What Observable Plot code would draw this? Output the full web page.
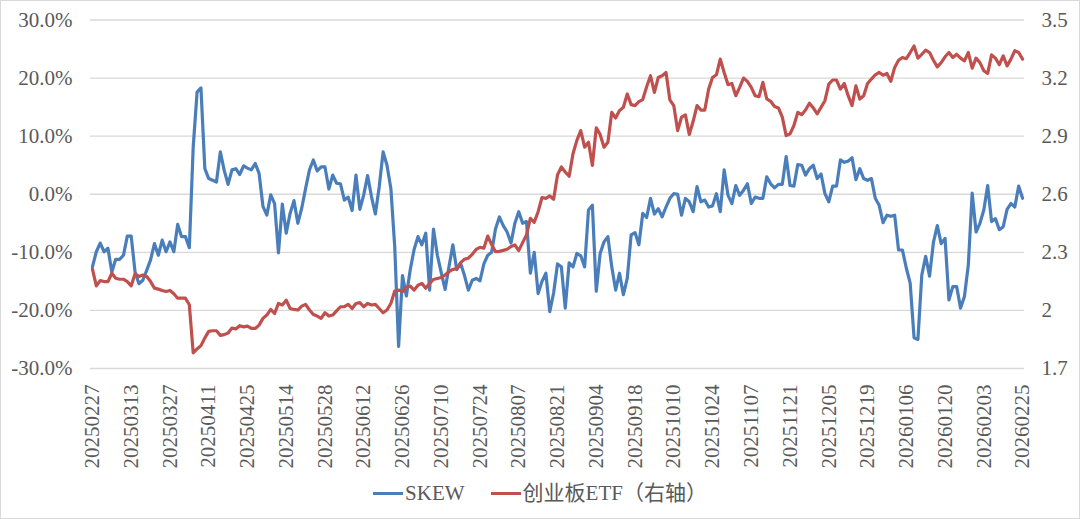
<!DOCTYPE html>
<html><head><meta charset="utf-8">
<script src="https://cdn.jsdelivr.net/npm/d3@7"></script>
<script src="https://cdn.jsdelivr.net/npm/@observablehq/plot@0.6"></script>
<style>
body{margin:0;background:#fff;}
#wrap{position:relative;width:1080px;height:519px;overflow:hidden;background:#fff;}
#wrap svg{position:absolute;left:0;top:0;}
#frame{position:absolute;left:0;top:0;width:1080px;height:519px;box-sizing:border-box;border:1px solid #d9d9d9;pointer-events:none;}
#legend{position:absolute;left:0;top:481px;width:1080px;height:24px;line-height:24px;display:flex;justify-content:center;align-items:center;font-family:"Liberation Serif","Noto Sans CJK SC",serif;font-size:21px;color:#595959;}
.item{display:flex;align-items:center;}
.sw{width:30px;height:3px;margin-right:2px;}
</style></head>
<body><div id="wrap"><div id="frame"></div>
<div id="legend">
  <div class="item"><div class="sw" style="background:#4A7EBB"></div><span>SKEW</span></div>
  <div class="item" style="margin-left:26px"><div class="sw" style="background:#C0504D"></div><span>创业板ETF（右轴）</span></div>
</div></div>
<script>
const dates = [
"20250227","20250228",
"20250303","20250304","20250305","20250306","20250307","20250310","20250311","20250312","20250313","20250314","20250317","20250318","20250319","20250320","20250321","20250324","20250325","20250326","20250327","20250328","20250331",
"20250401","20250402","20250403","20250407","20250408","20250409","20250410","20250411","20250414","20250415","20250416","20250417","20250418","20250421","20250422","20250423","20250424","20250425","20250428","20250429","20250430",
"20250506","20250507","20250508","20250509","20250512","20250513","20250514","20250515","20250516","20250519","20250520","20250521","20250522","20250523","20250526","20250527","20250528","20250529","20250530",
"20250603","20250604","20250605","20250606","20250609","20250610","20250611","20250612","20250613","20250616","20250617","20250618","20250619","20250620","20250623","20250624","20250625","20250626","20250627","20250630",
"20250701","20250702","20250703","20250704","20250707","20250708","20250709","20250710","20250711","20250714","20250715","20250716","20250717","20250718","20250721","20250722","20250723","20250724","20250725","20250728","20250729","20250730","20250731",
"20250801","20250804","20250805","20250806","20250807","20250808","20250811","20250812","20250813","20250814","20250815","20250818","20250819","20250820","20250821","20250822","20250825","20250826","20250827","20250828","20250829",
"20250901","20250902","20250903","20250904","20250905","20250908","20250909","20250910","20250911","20250912","20250915","20250916","20250917","20250918","20250919","20250922","20250923","20250924","20250925","20250926","20250929","20250930",
"20251009","20251010","20251013","20251014","20251015","20251016","20251017","20251020","20251021","20251022","20251023","20251024","20251027","20251028","20251029","20251030","20251031",
"20251103","20251104","20251105","20251106","20251107","20251110","20251111","20251112","20251113","20251114","20251117","20251118","20251119","20251120","20251121","20251124","20251125","20251126","20251127","20251128",
"20251201","20251202","20251203","20251204","20251205","20251208","20251209","20251210","20251211","20251212","20251215","20251216","20251217","20251218","20251219","20251222","20251223","20251224","20251225","20251226","20251229","20251230","20251231",
"20260105","20260106","20260107","20260108","20260109","20260112","20260113","20260114","20260115","20260116","20260119","20260120","20260121","20260122","20260123","20260126","20260127","20260128","20260129","20260130",
"20260202","20260203","20260204","20260205","20260206","20260209","20260210","20260211","20260212","20260213","20260224","20260225"];

const tickLabels = ["20250227","20250313","20250327","20250411","20250425","20250514","20250528","20250612","20250626","20250710","20250724","20250807","20250821","20250904","20250918","20251010","20251024","20251107","20251121","20251205","20251219","20260106","20260120","20260203","20260225"];

// SKEW, percent
const skew = [
-12.5,-9.9,-8.4,-9.9,-9.3,-13.4,-11.2,-11.2,-10.5,-7.2,
-7.2,-13.4,-15.4,-14.8,-13.1,-11.3,-8.5,-10.5,-7.9,-9.9,
-8.2,-9.9,-5.2,-7.3,-7.3,-9.2,8.1,17.6,18.3,4.4,
2.7,2.4,2.1,7.3,4.1,1.7,4.2,4.4,3.4,4.9,
4.5,4.2,5.3,3.6,-2.1,-3.6,-0.1,-1.6,-10.1,-1.7,
-6.7,-3.3,-1.1,-5.0,-2.4,1.0,4.2,5.9,4.0,4.7,
4.7,0.9,3.3,1.9,1.8,-1.0,-0.5,-2.8,3.3,-2.6,
-0.1,3.2,-0.4,-3.4,1.3,7.3,5.0,1.0,-9.0,-26.2,
-14.0,-17.5,-13.0,-9.5,-7.3,-8.7,-6.7,-16.5,-6.0,-10.5,
-13.5,-16.4,-12.5,-8.7,-13.0,-11.9,-14.0,-16.5,-14.8,-14.5,
-14.9,-12.0,-10.5,-10.0,-6.0,-3.9,-5.4,-6.5,-8.4,-5.0,
-3.0,-5.0,-4.7,-13.6,-10.0,-17.1,-15.0,-13.6,-20.2,-17.0,
-12.0,-12.5,-19.6,-11.8,-12.5,-10.2,-10.6,-12.5,-2.7,-1.9,
-16.7,-10.2,-8.2,-7.3,-12.5,-16.5,-13.6,-17.3,-14.5,-7.0,
-6.6,-8.7,-3.3,-4.0,-0.7,-3.4,-2.5,-3.9,-2.2,-0.7,
0.1,0.0,-3.6,-0.7,-1.3,-3.0,1.3,-1.3,-1.0,-2.2,
-2.0,0.1,-3.0,4.2,-0.2,-1.6,1.5,-0.2,0.7,1.8,
-1.6,-0.5,-0.7,-0.7,3.0,1.8,1.1,1.7,1.7,6.5,
1.5,1.4,5.1,5.0,3.3,4.4,5.0,2.7,3.5,0.1,
-1.3,1.4,1.4,5.9,5.5,5.7,6.3,2.5,4.4,2.7,
2.4,2.7,-0.7,-1.9,-4.9,-3.6,-3.8,-3.6,-9.6,-9.6,
-12.7,-15.3,-24.7,-25.0,-13.9,-10.7,-14.1,-8.3,-5.4,-8.5,
-7.6,-18.2,-15.9,-15.9,-19.6,-17.6,-12.2,0.2,-6.5,-5.0,
-2.7,1.5,-4.7,-4.2,-6.1,-5.6,-2.6,-1.6,-2.2,1.4,
-0.7];

// 创业板ETF price (right axis)
const etf = [
2.213,2.127,2.154,2.149,2.149,2.192,2.166,2.161,2.161,2.149,
2.127,2.189,2.175,2.183,2.175,2.149,2.115,2.110,2.103,2.098,
2.103,2.086,2.063,2.063,2.063,2.029,1.781,1.801,1.818,1.858,
1.892,1.895,1.895,1.871,1.875,1.883,1.909,1.904,1.921,1.915,
1.919,1.907,1.907,1.924,1.959,1.976,2.005,1.984,2.036,2.028,
2.053,2.010,2.005,2.002,2.022,2.031,2.002,1.979,1.971,1.959,
1.988,1.971,1.976,1.998,2.019,2.019,2.031,2.010,2.036,2.040,
2.019,2.036,2.028,2.031,2.010,1.988,2.002,2.036,2.100,2.105,
2.097,2.120,2.125,2.105,2.130,2.140,2.114,2.140,2.160,2.165,
2.170,2.183,2.200,2.212,2.215,2.247,2.264,2.270,2.290,2.315,
2.326,2.321,2.384,2.340,2.303,2.305,2.310,2.316,2.330,2.338,
2.309,2.350,2.390,2.476,2.455,2.510,2.583,2.579,2.591,2.574,
2.700,2.741,2.715,2.693,2.809,2.878,2.929,2.843,2.869,2.749,
2.943,2.909,2.843,2.869,3.023,2.994,3.032,3.049,3.118,3.063,
3.058,3.078,3.089,3.155,3.212,3.126,3.203,3.212,3.229,3.087,
3.058,2.929,2.998,3.010,2.909,2.977,3.058,3.035,3.035,3.143,
3.203,3.217,3.298,3.229,3.166,3.172,3.109,3.152,3.200,3.183,
3.152,3.109,3.104,3.178,3.092,3.080,3.053,3.046,2.998,2.903,
2.912,2.955,3.023,3.011,3.035,3.070,3.046,3.015,3.049,3.083,
3.169,3.190,3.190,3.143,3.172,3.109,3.058,3.160,3.092,3.109,
3.172,3.195,3.217,3.229,3.215,3.224,3.183,3.255,3.292,3.306,
3.300,3.332,3.366,3.303,3.323,3.344,3.332,3.292,3.258,3.280,
3.310,3.332,3.306,3.323,3.303,3.289,3.332,3.251,3.303,3.280,
3.238,3.224,3.320,3.303,3.269,3.315,3.263,3.298,3.341,3.332,
3.298];

const leftTicks = [-30,-20,-10,0,10,20,30];
const rightTicks = [1.7,2.0,2.3,2.6,2.9,3.2,3.5];

const skewData = dates.map((d,i)=>({date:d, v:skew[i]}));
const etfData = dates.map((d,i)=>({date:d, v:etf[i]}));

const font = '"Liberation Serif", "Times New Roman", serif';
const common = {
  width:1080, height:470,
  marginLeft:90, marginRight:56, marginTop:19.5, marginBottom:102,
  style:{background:"transparent", fontFamily:font, fontSize:"21px", color:"#595959", overflow:"visible"}
};
const xScale = {type:"point", domain:dates, padding:0.5, align:0.5};

const p1 = Plot.plot({
  ...common,
  x:xScale,
  y:{domain:[-30,30]},
  marks:[
    Plot.gridY(leftTicks,{stroke:"#d9d9d9", strokeOpacity:1, strokeWidth:1.3}),
    Plot.axisY({ticks:leftTicks, tickFormat:d=>d.toFixed(1)+"%", tickSize:0, tickPadding:18, label:null, fontSize:21}),
    Plot.axisX({ticks:tickLabels, tickRotate:-90, tickSize:0, tickPadding:16, label:null, fontSize:21}),
    Plot.lineY(skewData,{x:"date", y:"v", stroke:"#4A7EBB", strokeWidth:3.2, strokeLinejoin:"round"})
  ]
});

const p2 = Plot.plot({
  ...common,
  x:{...xScale, axis:null},
  y:{domain:[1.7,3.5]},
  marks:[
    Plot.axisY({anchor:"right", ticks:rightTicks, tickFormat:d=>String(+d.toFixed(1)), tickSize:0, tickPadding:17, label:null, fontSize:21}),
    Plot.lineY(etfData,{x:"date", y:"v", stroke:"#C0504D", strokeWidth:3.2, strokeLinejoin:"round"})
  ]
});

const wrap = document.getElementById("wrap");
wrap.insertBefore(p2, wrap.firstChild);
wrap.insertBefore(p1, wrap.firstChild);
</script>
</body></html>
